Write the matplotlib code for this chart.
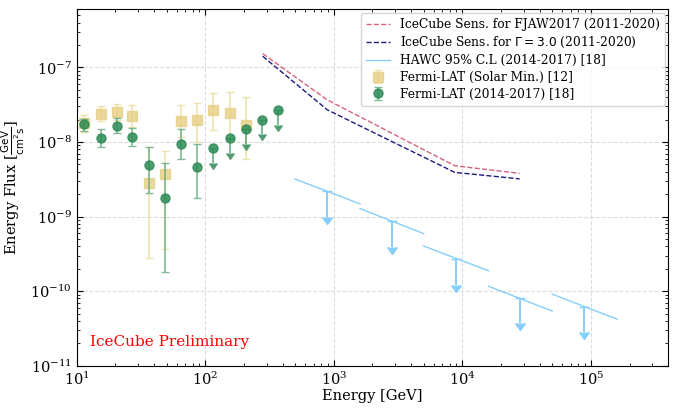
import matplotlib
matplotlib.use("Agg")
import matplotlib.pyplot as plt
import numpy as np

plt.rcParams['font.family'] = ['DejaVu Serif']
plt.rcParams['mathtext.fontset'] = 'dejavusans'

# ---------------- data ----------------
energies = [11.5, 15.4, 20.5, 27.1, 36.4, 48.5, 65.0, 86.1, 114.8, 154.9, 206.0, 275.0, 369.0]

# Fermi-LAT (2014-2017) detections
green_e = energies[:8]
green_flux = [1.73e-8, 1.13e-8, 1.66e-8, 1.16e-8, 4.9e-9, 1.76e-9, 9.5e-9, 4.6e-9]
green_hi = [2.02e-8, 1.48e-8, 2.08e-8, 1.53e-8, 8.6e-9, 5.3e-9, 1.48e-8, 9.4e-9]
green_lo = [1.42e-8, 8.6e-9, 1.33e-8, 8.8e-9, 2.08e-9, 1.78e-10, 5.9e-9, 1.8e-9]
# Fermi-LAT (2014-2017) upper limits
green_ul_e = energies[8:]
green_ul = [8.3e-9, 1.12e-8, 1.50e-8, 2.0e-8, 2.70e-8]

# Fermi-LAT (Solar Min.)
yel_e = energies[:11]
yel_flux = [1.82e-8, 2.40e-8, 2.51e-8, 2.26e-8, 2.78e-9, 3.67e-9, 1.94e-8, 1.96e-8, 2.67e-8, 2.45e-8, 1.69e-8]
yel_hi = [2.28e-8, 3.05e-8, 3.2e-8, 3.1e-8, 8.6e-9, 7.6e-9, 3.1e-8, 3.35e-8, 4.57e-8, 4.67e-8, 4.0e-8]
yel_lo = [1.35e-8, 1.9e-8, 1.98e-8, 1.6e-8, 2.75e-10, 3.7e-10, 1.16e-8, 1.01e-8, 1.44e-8, 1.05e-8, 5.9e-9]

# IceCube sensitivities
sens_e = [280, 890, 8730, 27900]
sens_fjaw = [1.53e-7, 3.67e-8, 4.8e-9, 3.79e-9]
sens_g3 = [1.41e-7, 2.70e-8, 3.91e-9, 3.2e-9]

# HAWC 95% C.L.
hawc_elo = [500, 1600, 5000, 16000, 50000]
hawc_ehi = [1600, 5000, 16000, 50000, 160000]
hawc_flo = [3.18e-9, 1.28e-9, 4.02e-10, 1.16e-10, 9.1e-11]
hawc_fhi = [1.48e-9, 5.9e-10, 1.87e-10, 5.4e-11, 4.2e-11]
hawc_ec = [890, 2820, 8900, 28200, 89000]
hawc_fc = [2.2e-9, 8.6e-10, 2.72e-10, 8.2e-11, 6.2e-11]

# ---------------- plot ----------------
fig = plt.figure(figsize=(6.78, 4.09), dpi=100)
ax = fig.add_axes([0.1131, 0.106, 0.8726, 0.871])
ax.set_xscale('log')
ax.set_yscale('log')

ax.plot(sens_e, sens_fjaw, ls='--', color='#d6627a', lw=1.0,
        label='IceCube Sens. for FJAW2017 (2011-2020)')
ax.plot(sens_e, sens_g3, ls='--', color='#1a1a80', lw=1.0,
        label=r'IceCube Sens. for $\Gamma = 3.0$ (2011-2020)')

hawc_col = '#87cefa'
for i in range(len(hawc_elo)):
    ax.plot([hawc_elo[i], hawc_ehi[i]], [hawc_flo[i], hawc_fhi[i]], color=hawc_col, lw=1.0,
            label='HAWC 95% C.L (2014-2017) [18]' if i == 0 else None)
hawc_fc_arr = np.array(hawc_fc)
ax.errorbar(hawc_ec, hawc_fc, yerr=[0.55 * hawc_fc_arr, 0 * hawc_fc_arr], uplims=True,
            fmt='none', color=hawc_col, ecolor=hawc_col, elinewidth=1.4, capsize=3.5)

yel_flux_a = np.array(yel_flux)
ax.errorbar(yel_e, yel_flux,
            yerr=[yel_flux_a - np.array(yel_lo), np.array(yel_hi) - yel_flux_a],
            fmt='s', color='#e6cf85', ms=6.5, alpha=0.8, ecolor='#ecdb9f',
            elinewidth=1.2, capsize=3, label='Fermi-LAT (Solar Min.) [12]', zorder=3)

gf = np.array(green_flux)
ax.errorbar(green_e, green_flux,
            yerr=[gf - np.array(green_lo), np.array(green_hi) - gf],
            fmt='o', color='#2e8b57', ms=6.5, alpha=0.85, ecolor='#6aae84',
            elinewidth=1.2, capsize=3, label='Fermi-LAT (2014-2017) [18]', zorder=4)
gul = np.array(green_ul)
ax.errorbar(green_ul_e, green_ul, yerr=[0.37 * gul, 0 * gul], uplims=True,
            fmt='o', color='#2e8b57', ms=6.5, alpha=0.85, ecolor='#4f9c6e',
            elinewidth=1.2, capsize=3, zorder=4)

ax.set_xlim(10, 4e5)
ax.set_ylim(1e-11, 6e-7)
ax.grid(True, which='major', ls='--', color='#dddddd', lw=0.8)
ax.tick_params(which='both', direction='in', top=True, right=True, labelsize=10.5)
ax.tick_params(which='major', length=4)
ax.tick_params(which='minor', length=2)
ax.set_xlabel('Energy [GeV]', fontsize=10.5, labelpad=1)
ax.set_ylabel(r'Energy Flux [$\frac{\mathrm{GeV}}{\mathrm{cm}^2\mathrm{s}}$]', fontsize=10.5, labelpad=2)

ax.text(0.022, 0.055, 'IceCube Preliminary', color='red', fontsize=11, transform=ax.transAxes)

ax.legend(loc='upper right', fontsize=8.8, framealpha=0.8, borderaxespad=0.3,
          labelspacing=0.32)

fig.savefig('out.png', dpi=100)
